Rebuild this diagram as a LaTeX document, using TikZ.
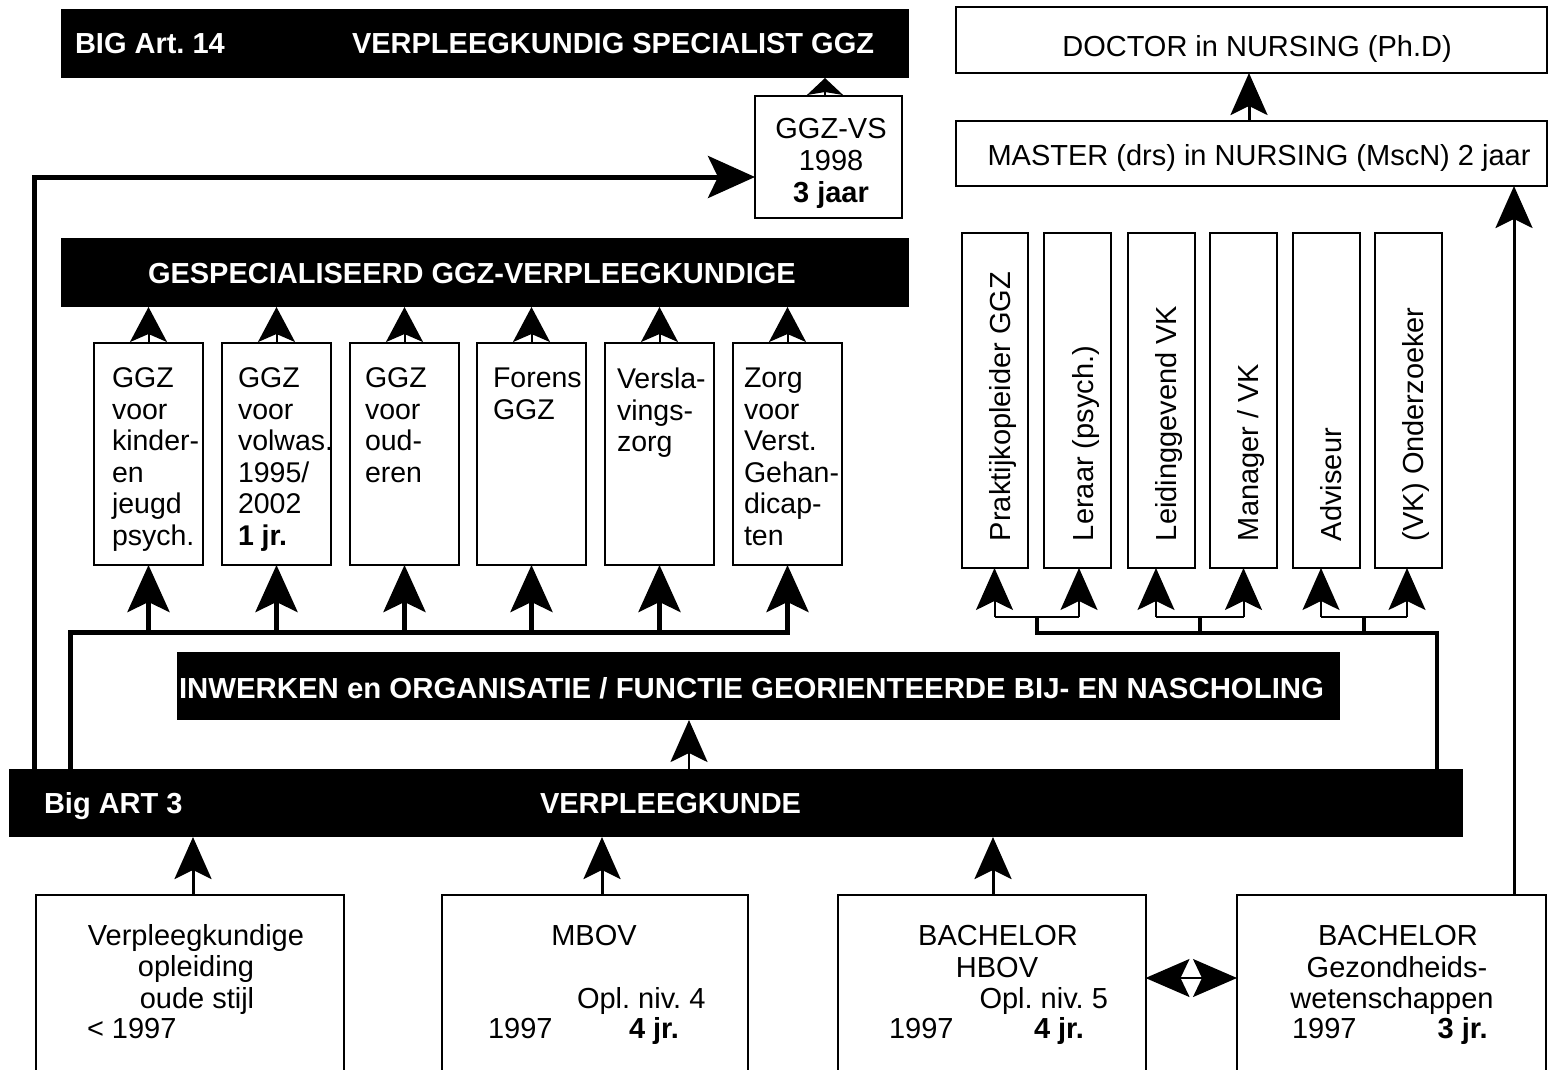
\documentclass[tikz,border=0pt]{standalone}
\usepackage{fontspec}
\usepackage{graphicx}
\setmainfont{Liberation Sans}
\usetikzlibrary{arrows.meta}
\frenchspacing
\begin{document}
\frenchspacing
\begin{tikzpicture}[x=1pt,y=-1pt,
  every node/.style={inner sep=0pt, outer sep=0pt},
  bar/.style={fill=black, draw=none, rectangle},
  box/.style={draw=black, line width=2pt, fill=white, rectangle},
  wtxt/.style={text=white, font=\fontsize{29}{33}\selectfont\bfseries},
  txt/.style={font=\fontsize{29}{32}\selectfont},
  spectxt/.style={font=\fontsize{28.5}{31.5}\selectfont, align=left, anchor=north west},
  con/.style={line width=#1, line join=miter},
  tipbig/.style={-{Stealth[length=47pt,width=42pt,inset=10pt]}},
  tipmed/.style={-{Stealth[length=42pt,width=37pt,inset=9pt]}},
  tipsml/.style={-{Stealth[length=35pt,width=37pt,inset=8pt]}},
  tiptiny/.style={-{Stealth[length=17pt,width=36pt,inset=3pt]}},
]
\clip (0,0) rectangle (1550,1070);
\fill[white] (0,0) rectangle (1550,1070);

% ---- named coordinates
\coordinate (xggz) at (825,0);
\coordinate (L1) at (34,177);
\coordinate (H1) at (70,632);
\coordinate (xinw) at (689,0);
\coordinate (R1) at (1437,633);
\coordinate (xm) at (1514,0);
\coordinate (xd) at (1249,0);
\coordinate (xb1) at (193,0);
\coordinate (xb2) at (602,0);
\coordinate (xb3) at (993,0);
\coordinate (ydbl) at (0,978);
\coordinate (yr) at (0,617);
\coordinate (xr1) at (994.5,0);
\coordinate (xr2) at (1079,0);
\coordinate (xr3) at (1156,0);
\coordinate (xr4) at (1243.5,0);
\coordinate (xr5) at (1321,0);
\coordinate (xr6) at (1407,0);
\coordinate (xs1) at (1037,0);
\coordinate (xs2) at (1199.5,0);
\coordinate (xs3) at (1364,0);

% ---- black bars
\node[bar, minimum width=848pt, minimum height=69pt] (big14) at (485,43.5) {};
\node[wtxt, anchor=base west] (big14a) at (75,54) {BIG Art. 14};
\node[wtxt, anchor=base west] (big14b) at (352,54) {VERPLEEGKUNDIG SPECIALIST GGZ};

\node[bar, minimum width=848pt, minimum height=69pt] (gesp) at (485,272.5) {};
\node[wtxt, anchor=base west] (gespt) at (148,283) {GESPECIALISEERD GGZ-VERPLEEGKUNDIGE};

\node[bar, minimum width=1163pt, minimum height=68pt] (inw) at (758.5,686) {};
\node[wtxt, anchor=base west] (inwt) at (179,698) {\resizebox{1145pt}{\height}{INWERKEN en ORGANISATIE / FUNCTIE GEORIENTEERDE BIJ- EN NASCHOLING}};

\node[bar, minimum width=1454pt, minimum height=68pt] (vpk) at (736,803) {};
\node[wtxt, anchor=base west] (vpka) at (44,813) {Big ART 3};
\node[wtxt, anchor=base west] (vpkb) at (540,813) {VERPLEEGKUNDE};

% ---- GGZ-VS box
\node[box, minimum width=147pt, minimum height=122pt] (ggzvs) at (828.5,157) {};
\node[txt, align=center, anchor=north] (ggzvst) at (831,118) {GGZ-VS\\1998\\\textbf{3 jaar}};

% ---- right top boxes
\node[box, minimum width=591pt, minimum height=66pt] (doc) at (1251.5,40) {};
\node[txt, anchor=base] (doct) at (1257,57) {DOCTOR in NURSING (Ph.D)};
\node[box, minimum width=591pt, minimum height=65pt] (mst) at (1251.5,153.5) {};
\node[txt, anchor=base] (mstt) at (1259,165) {MASTER (drs) in NURSING (MscN) 2 jaar};

% ---- specialisation boxes
\foreach \i/\cx in {1/148.5,2/276.5,3/404.5,4/531.5,5/659.5,6/787.5}
  \node[box, minimum width=109pt, minimum height=222pt] (s\i) at (\cx,454) {};
\node[spectxt] (s1t) at (112,368) {GGZ\\voor\\kinder-\\en\\jeugd\\psych.};
\node[spectxt] (s2t) at (238,368) {GGZ\\voor\\volwas.\\1995/\\2002\\\textbf{1 jr.}};
\node[spectxt] (s3t) at (365,368) {GGZ\\voor\\oud-\\eren};
\node[spectxt] (s4t) at (493,368) {Forens\\GGZ};
\node[spectxt] (s5t) at (617,368) {Versla-\\vings-\\zorg};
\node[spectxt] (s6t) at (744,368) {Zorg\\voor\\Verst.\\Gehan-\\dicap-\\ten};

% ---- role boxes
\foreach \i/\cx in {1/995,2/1077.5,3/1161.5,4/1243.5,5/1326.5,6/1408.5}
  \node[box, minimum width=66.5pt, minimum height=335pt] (r\i) at (\cx,400.5) {};
\node[txt, rotate=90, anchor=base west] (r1t) at (1010,541) {Praktijkopleider GGZ};
\node[txt, rotate=90, anchor=base west] (r2t) at (1093.5,541) {Leraar (psych.)};
\node[txt, rotate=90, anchor=base west] (r3t) at (1176.5,541) {Leidinggevend VK};
\node[txt, rotate=90, anchor=base west] (r4t) at (1258.5,541) {Manager / VK};
\node[txt, rotate=90, anchor=base west] (r5t) at (1341.5,541) {Adviseur};
\node[txt, rotate=90, anchor=base west] (r6t) at (1423.5,541) {(VK) Onderzoeker};

% ---- bottom boxes
\node[box, minimum width=308pt, minimum height=200pt, anchor=north west] (b1) at (36,895) {};
\node[box, minimum width=306pt, minimum height=200pt, anchor=north west] (b2) at (442,895) {};
\node[box, minimum width=307.5pt, minimum height=200pt, anchor=north west] (b3) at (838,895) {};
\node[box, minimum width=309pt, minimum height=200pt, anchor=north west] (b4) at (1237,895) {};

\node[txt, anchor=base] (b1a) at (196,945) {Verpleegkundige};
\node[txt, anchor=base] (b1b) at (196,976) {opleiding};
\node[txt, anchor=base] (b1c) at (197,1008) {oude stijl};
\node[txt, anchor=base west] (b1d) at (87,1038) {< 1997};

\node[txt, anchor=base] (b2a) at (594,945) {MBOV};
\node[txt, anchor=base west] (b2b) at (577,1008) {Opl. niv. 4};
\node[txt, anchor=base west] (b2c) at (488,1038) {1997};
\node[txt, anchor=base west] (b2d) at (629,1038) {\textbf{4 jr.}};

\node[txt, anchor=base] (b3a) at (998,945) {BACHELOR};
\node[txt, anchor=base] (b3b) at (997,977) {HBOV};
\node[txt, anchor=base west] (b3c) at (979.5,1008) {Opl. niv. 5};
\node[txt, anchor=base west] (b3d) at (889,1038) {1997};
\node[txt, anchor=base west] (b3e) at (1034,1038) {\textbf{4 jr.}};

\node[txt, anchor=base] (b4a) at (1398,945) {BACHELOR};
\node[txt, anchor=base] (b4b) at (1397,977) {Gezondheids-};
\node[txt, anchor=base] (b4c) at (1392,1008) {wetenschappen};
\node[txt, anchor=base west] (b4d) at (1292,1038) {1997};
\node[txt, anchor=base west] (b4e) at (1437.6,1038) {\textbf{3 jr.}};

% ---- connectors
\draw[con=2pt, tiptiny] (ggzvs.north -| xggz) -- (big14.south -| xggz);
\draw[con=5pt, tipbig] (vpk.north -| L1) -- (L1) -- (L1 -| ggzvs.west);

\draw[con=5pt, line cap=rect] (vpk.north -| H1) -- (H1) -- (H1 -| s6.south);
\foreach \i in {1,...,6}
  \draw[con=5pt, tipbig] (s\i.south |- H1) -- (s\i.south);
\foreach \i in {1,...,6}
  \draw[con=2pt, tipsml] (s\i.north) -- (s\i.north |- gesp.south);

\draw[con=2.5pt, tipmed] (vpk.north -| xinw) -- (inw.south -| xinw);

\draw[con=4pt, line cap=rect] (vpk.north -| R1) -- (R1) -- (R1 -| xs1);
\draw[con=4pt] (xs1 |- R1) -- (xs1 |- yr);
\draw[con=4pt] (xs2 |- R1) -- (xs2 |- yr);
\draw[con=4pt] (xs3 |- R1) -- (xs3 |- yr);
\draw[con=2pt] (xr1 |- yr) -- (xr2 |- yr);
\draw[con=2pt] (xr3 |- yr) -- (xr4 |- yr);
\draw[con=2pt] (xr5 |- yr) -- (xr6 |- yr);
\foreach \i in {1,...,6}
  \draw[con=2pt, tipmed] (xr\i |- yr) -- (r\i.south -| xr\i);

\draw[con=3pt, tipmed] (b1.north -| xb1) -- (vpk.south -| xb1);
\draw[con=3pt, tipmed] (b2.north -| xb2) -- (vpk.south -| xb2);
\draw[con=3pt, tipmed] (b3.north -| xb3) -- (vpk.south -| xb3);
\draw[con=2pt, {Stealth[length=44pt,width=38pt,inset=9pt]}-{Stealth[length=44pt,width=38pt,inset=9pt]}] (b3.east |- ydbl) -- (b4.west |- ydbl);
\draw[con=3pt, tipmed] (b4.north -| xm) -- (mst.south -| xm);
\draw[con=3pt, tipmed] (mst.north -| xd) -- (doc.south -| xd);
\end{tikzpicture}
\end{document}
